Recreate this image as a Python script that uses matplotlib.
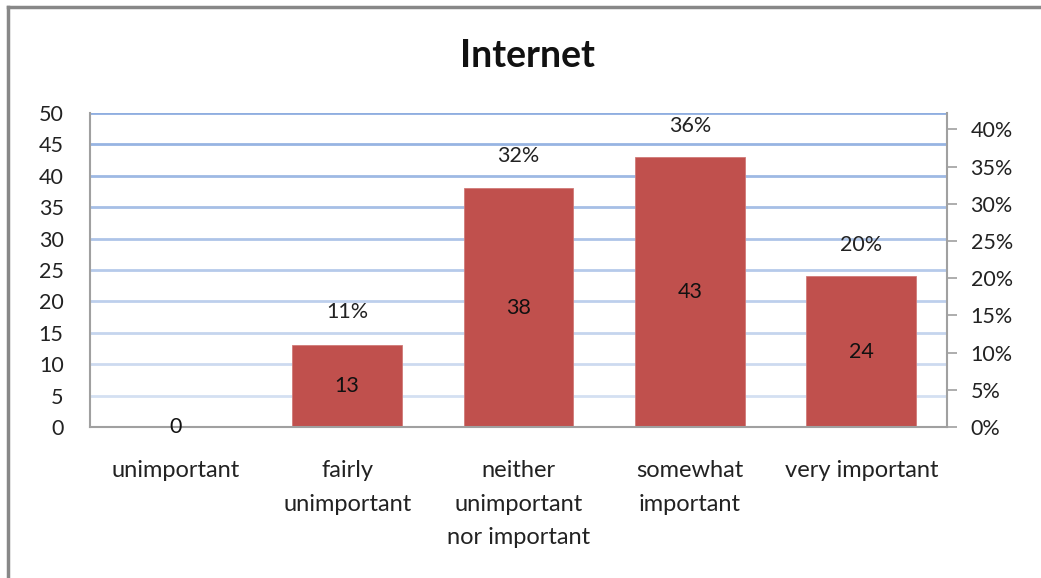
import matplotlib.pyplot as plt
import matplotlib.colors as mcolors
import numpy as np

categories = ["unimportant", "fairly\nunimportant", "neither\nunimportant\nnor important",
              "somewhat\nimportant", "very important"]
counts = [0, 13, 38, 43, 24]
percents = [0, 11, 32, 36, 20]
left_ticks = [0, 5, 10, 15, 20, 25, 30, 35, 40, 45, 50]
right_ticks = [0, 5, 10, 15, 20, 25, 30, 35, 40]

plt.rcParams['font.family'] = ['Lato', 'DejaVu Sans']
FS = 15.5

fig = plt.figure(figsize=(10.41, 5.78), dpi=100)
ax = fig.add_axes([0.0865, 0.2612, 0.8232, 0.5433])

x = np.arange(len(categories))
ax.set_xlim(-0.5, len(categories) - 0.5)
ax.set_ylim(0, 50)

# gridlines fade from blue at the top to pale blue near the base
top_c = np.array(mcolors.to_rgb('#8FAEE0'))
low_c = np.array(mcolors.to_rgb('#DCE5F4'))
for v in left_ticks[1:]:
    t = v / 50
    ax.axhline(v, color=low_c + (top_c - low_c) * t, lw=2, zorder=0)

bars = ax.bar(x, counts, width=0.64, color='#C0504D', edgecolor='#D07A78',
              linewidth=0.6, zorder=2)
ax.bar_label(bars, labels=[str(c) for c in counts], label_type='center',
             fontsize=FS, color='#111111', zorder=3)

ax.set_yticks(left_ticks)
ax.set_yticklabels([str(v) for v in left_ticks], fontsize=FS, color='#222222')
ax.tick_params(axis='y', length=0, pad=19)
ax.set_xticks(x)
ax.set_xticklabels(categories, fontsize=17, color='#222222', linespacing=1.72)
ax.tick_params(axis='x', length=0, pad=24)

ax.spines['top'].set_visible(False)
ax.spines['right'].set_visible(False)
for side in ['left', 'bottom']:
    ax.spines[side].set_color('#A0A0A0')
    ax.spines[side].set_linewidth(1.5)

# secondary axis for the share of answers
ax2 = ax.twinx()
ax2.set_ylim(0, 50 * 298 / 353)
ax2.set_yticks(right_ticks)
ax2.set_yticklabels([f"{v}%" for v in right_ticks], fontsize=FS, color='#222222')
ax2.tick_params(axis='y', length=7, width=1.2, color='#A0A0A0', pad=10)
for side in ['top', 'left', 'bottom']:
    ax2.spines[side].set_visible(False)
ax2.spines['right'].set_color('#A0A0A0')
ax2.spines['right'].set_linewidth(1.5)
ax2.plot(x, percents, alpha=0)
for xi, p in zip(x, percents):
    if p > 0:
        ax2.annotate(f"{p}%", (xi, p), xytext=(0, 24), textcoords='offset points',
                     ha='center', va='center', fontsize=FS, color='#222222')

fig.text(0.507, 0.903, "Internet", ha='center', va='center', fontsize=27,
         fontweight='bold', color='#111111')

# frame lines along the top and left edges
fig.add_artist(plt.Line2D([8 / 1041, 1], [1 - 7 / 578, 1 - 7 / 578],
                          transform=fig.transFigure, color='#888888', lw=2.5))
fig.add_artist(plt.Line2D([8 / 1041, 8 / 1041], [0, 1 - 7 / 578],
                          transform=fig.transFigure, color='#888888', lw=2.5))

plt.savefig('out.png', dpi=100)
